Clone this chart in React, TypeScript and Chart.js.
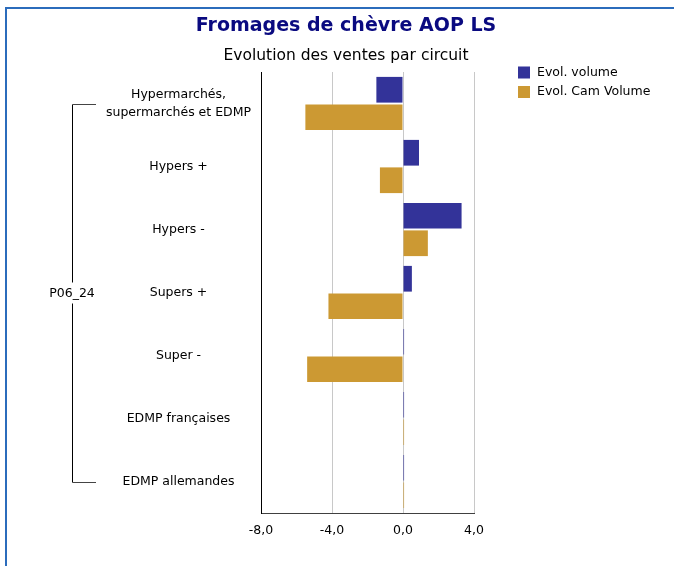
import React, { useEffect, useRef } from "react";
import { Chart, registerables } from "chart.js";

Chart.register(...registerables);

const categories: string[][] = [
  ["Hypermarchés,", "supermarchés et EDMP"],
  ["Hypers +"],
  ["Hypers -"],
  ["Supers +"],
  ["Super -"],
  ["EDMP françaises"],
  ["EDMP allemandes"],
];
const evolVolume = [-1.5, 0.9, 3.3, 0.5, 0.06, 0.06, 0.06];
const evolCamVolume = [-5.5, -1.3, 1.4, -4.2, -5.4, 0.06, 0.06];
const seriesNames = ["Evol. volume", "Evol. Cam Volume"];
const groupLabel = "P06_24";
const chartTitle = "Fromages de chèvre AOP LS";
const chartSubtitle = "Evolution des ventes par circuit";
const xMin = -8;
const xMax = 4;
const xStep = 4;

const FONT = '"DejaVu Sans", Verdana, sans-serif';
const BLUE = "#333399";
const GOLD = "#CC9933";

const overlayPlugin = {
  id: "overlay",
  afterDraw(chart: any) {
    const ctx = chart.ctx as CanvasRenderingContext2D;
    const y = chart.scales.y;
    ctx.save();
    // titles
    ctx.textAlign = "center";
    ctx.textBaseline = "middle";
    ctx.fillStyle = "#0a0a80";
    ctx.font = `bold 19px ${FONT}`;
    ctx.fillText(chartTitle, 346, 26);
    ctx.fillStyle = "#000";
    ctx.font = `15.5px ${FONT}`;
    ctx.fillText(chartSubtitle, 346, 55.5);

    // category labels
    ctx.font = `12.5px ${FONT}`;
    ctx.fillStyle = "#000";
    const labels = chart.data.labels as string[][];
    labels.forEach((lines, i) => {
      const yc = y.getPixelForValue(i);
      const lh = 18;
      const start = yc - ((lines.length - 1) * lh) / 2;
      lines.forEach((ln, k) => ctx.fillText(ln, 178.5, start + k * lh));
    });

    // bracket
    const yTop = Math.round(y.getPixelForValue(0)) + 0.5;
    const yBot = Math.round(y.getPixelForValue(labels.length - 1)) + 0.5;
    const yMid = (yTop + yBot) / 2;
    const bx = 72.5;
    ctx.strokeStyle = "#000";
    ctx.lineWidth = 1;
    ctx.beginPath();
    ctx.moveTo(bx, yTop);
    ctx.lineTo(bx, yMid - 11);
    ctx.moveTo(bx, yMid + 10);
    ctx.lineTo(bx, yBot);
    ctx.stroke();
    ctx.strokeStyle = "#444";
    ctx.beginPath();
    ctx.moveTo(bx, yTop);
    ctx.lineTo(96, yTop);
    ctx.moveTo(bx, yBot);
    ctx.lineTo(96, yBot);
    ctx.stroke();
    ctx.fillStyle = "#000";
    ctx.fillText(groupLabel, 72, yMid);

    // legend
    ctx.textAlign = "left";
    chart.data.datasets.forEach((ds: any, i: number) => {
      const ty = 72.5 + i * 19.5;
      ctx.fillStyle = ds.backgroundColor;
      ctx.fillRect(518, ty - 6, 12, 12);
      ctx.fillStyle = "#000";
      ctx.fillText(ds.label, 537, ty);
    });
    ctx.restore();
  },
};

export default function App() {
  const ref = useRef<HTMLCanvasElement | null>(null);
  useEffect(() => {
    if (!ref.current) return;
    const chart = new Chart(ref.current, {
      type: "bar",
      data: {
        labels: categories as any,
        datasets: [
          {
            label: seriesNames[0],
            data: evolVolume,
            backgroundColor: BLUE,
            barPercentage: 0.935,
            categoryPercentage: 0.873,
          },
          {
            label: seriesNames[1],
            data: evolCamVolume,
            backgroundColor: GOLD,
            barPercentage: 0.935,
            categoryPercentage: 0.873,
          },
        ],
      },
      options: {
        indexAxis: "y",
        animation: false,
        responsive: false,
        layout: { padding: { left: 261, right: 200, top: 72, bottom: 0 } },
        plugins: {
          legend: { display: false },
          title: { display: false },
          tooltip: { enabled: false },
        },
        scales: {
          x: {
            min: xMin,
            max: xMax,
            ticks: {
              stepSize: xStep,
              color: "#000",
              font: { family: FONT, size: 12.5 },
              padding: 10,
              callback: (v: any) => Number(v).toFixed(1).replace(".", ","),
            },
            grid: {
              color: (c: any) =>
                c.tick && c.tick.value === xMin ? "rgba(0,0,0,0)" : "#c8c8c8",
              drawTicks: false,
              lineWidth: 1,
            },
            border: { color: "#404040", width: 1 },
            afterFit: (s: any) => {
              s.height = 53;
            },
          },
          y: {
            ticks: { display: false },
            grid: { display: false, drawTicks: false },
            border: { color: "#000", width: 1 },
            afterFit: (s: any) => {
              s.width = 0;
            },
          },
        },
      },
      plugins: [overlayPlugin],
    });
    return () => chart.destroy();
  }, []);

  return (
    <div
      style={{
        position: "fixed",
        left: 0,
        top: 0,
        width: 674,
        height: 566,
        background: "#fff",
        overflow: "hidden",
      }}
    >
      <div
        style={{
          position: "absolute",
          left: 5,
          top: 7,
          width: 720,
          height: 620,
          borderLeft: "2px solid #2b6cbc",
          borderTop: "2px solid #2b6cbc",
        }}
      />
      <canvas
        ref={ref}
        width={674}
        height={566}
        style={{ position: "absolute", left: 0, top: 0 }}
      />
    </div>
  );
}
